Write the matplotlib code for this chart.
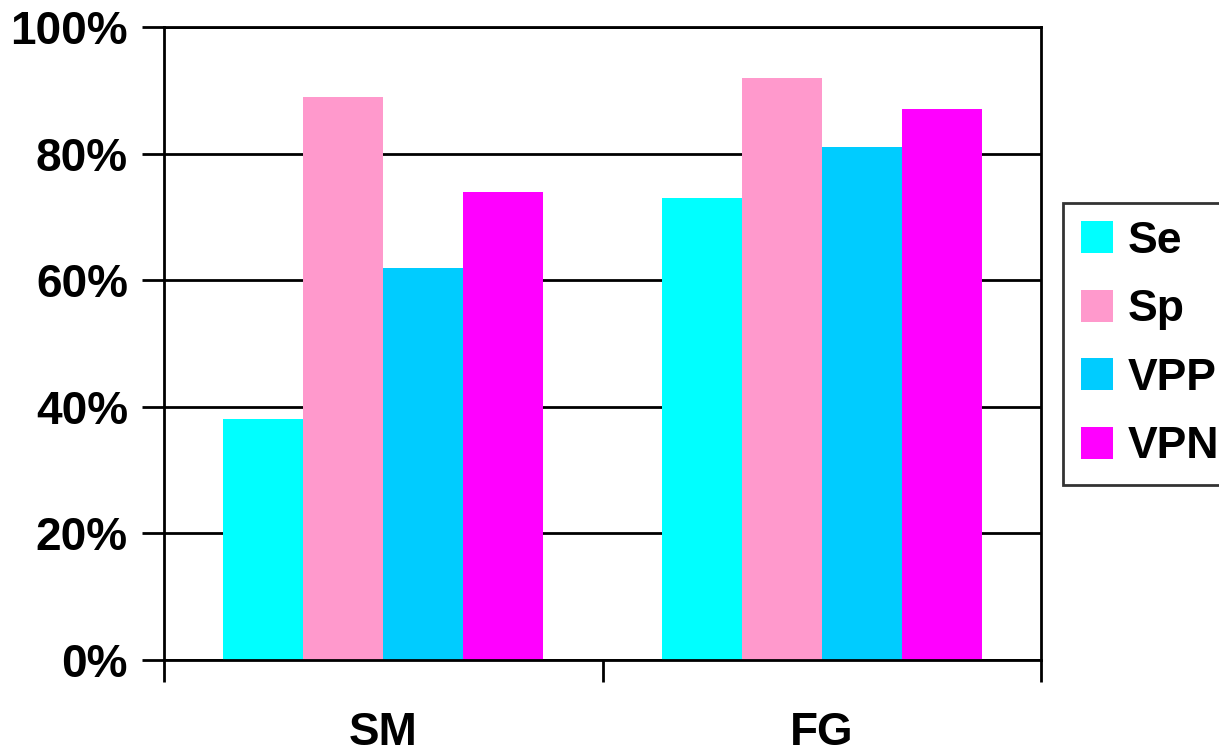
import numpy as np
import matplotlib
matplotlib.use("Agg")
import matplotlib.pyplot as plt
from matplotlib.ticker import FuncFormatter

categories = ["SM", "FG"]
series = ["Se", "Sp", "VPP", "VPN"]
values = {
    "Se": [38, 73],
    "Sp": [89, 92],
    "VPP": [62, 81],
    "VPN": [74, 87],
}
colors = ["#00FFFF", "#FF99CC", "#00CCFF", "#FF00FF"]

plt.rcParams["font.family"] = ["Liberation Sans", "DejaVu Sans"]
plt.rcParams["font.weight"] = "bold"

fig = plt.figure(figsize=(12.19, 7.53), dpi=100)
ax = fig.add_axes([164 / 1219, 1 - 660 / 753, (1041 - 164) / 1219, (660 - 27) / 753])

x = np.arange(len(categories))
w = 0.1824
for i, s in enumerate(series):
    ax.bar(x + (i - 1.5) * w, values[s], width=w, color=colors[i], label=s, zorder=2)

ax.set_xlim(-0.5, 1.5)
ax.set_ylim(0, 100)
ax.set_yticks(np.arange(0, 101, 20))
ax.yaxis.set_major_formatter(FuncFormatter(lambda v, p: "%d%%" % v))
ax.yaxis.grid(True, color="black", linewidth=2, zorder=1)
ax.tick_params(axis="y", length=16, width=2, labelsize=33, pad=10)

# category boundaries as major ticks, names as minor ticks
ax.set_xticks([-0.5, 0.5, 1.5])
ax.set_xticklabels([])
ax.set_xticks(x, minor=True)
ax.set_xticklabels(categories, minor=True)
ax.tick_params(axis="x", which="major", length=16, width=2)
ax.tick_params(axis="x", which="minor", length=0, labelsize=33, pad=37)

for sp in ax.spines.values():
    sp.set_linewidth(2)
    sp.set_color("black")

leg = ax.legend(loc="upper left", bbox_to_anchor=(1063 / 1219, 1 - 203 / 753),
                bbox_transform=fig.transFigure, borderaxespad=0,
                frameon=True, fancybox=False, edgecolor="black",
                handlelength=0.73, handleheight=0.73, handletextpad=0.32,
                borderpad=0.4, labelspacing=0.62, prop={"weight": "bold", "size": 32})
leg.get_frame().set_linewidth(2)

fig.savefig("out.png", dpi=100)
